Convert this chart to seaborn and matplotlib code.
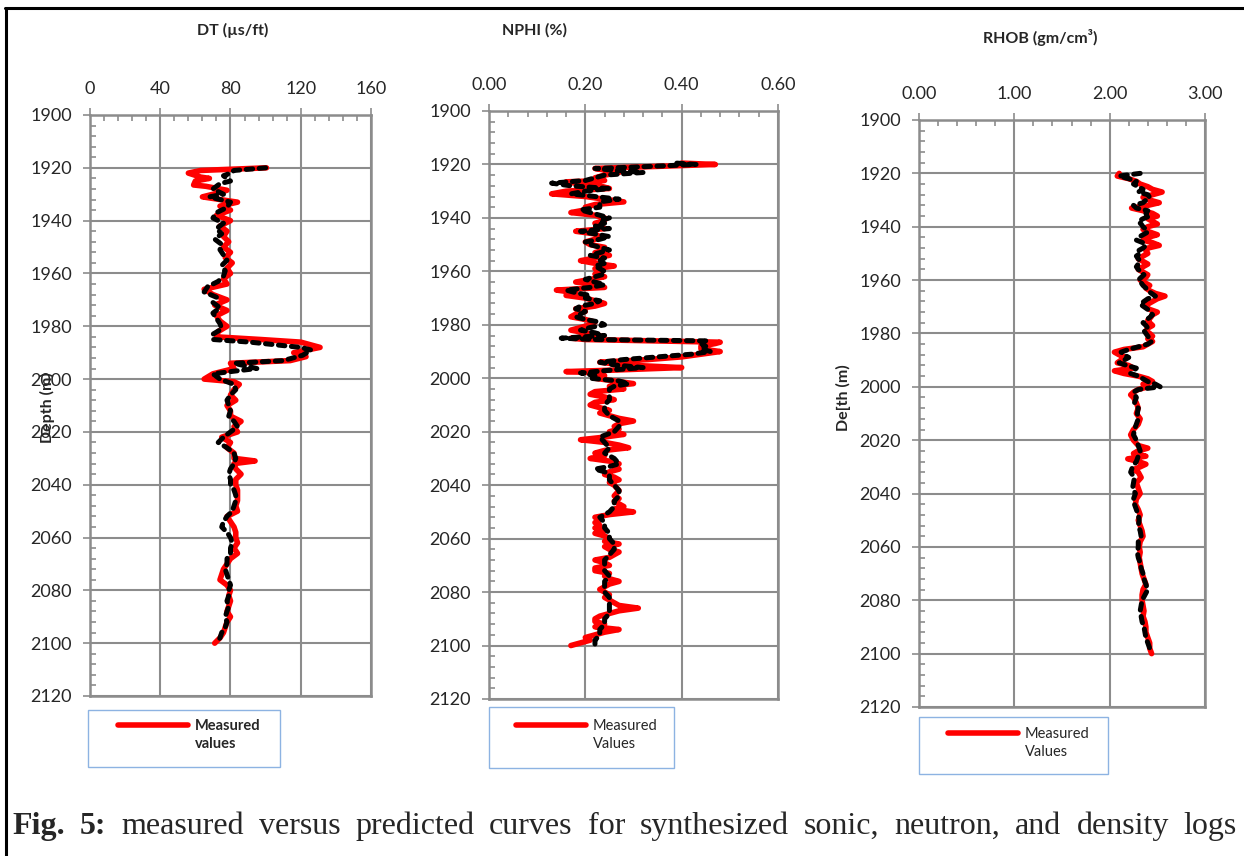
import matplotlib.pyplot as plt
import seaborn as sns
from matplotlib.ticker import MultipleLocator, FormatStrFormatter
from matplotlib.lines import Line2D
from matplotlib.patches import Rectangle

# ---- DT (sonic) ----
dt_meas_depth = [1920, 1921, 1922, 1923.5, 1924, 1925, 1926.5, 1927, 1928.5, 1930,
                 1931, 1932, 1933, 1934.5, 1936, 1938, 1940, 1942, 1944, 1946,
                 1948, 1950, 1952, 1954, 1956, 1958, 1960, 1962, 1964, 1966,
                 1968, 1970, 1972, 1974, 1976, 1978, 1980, 1982, 1984, 1985,
                 1986, 1988, 1990, 1991.5, 1993, 1994, 1996, 1998, 2000, 2001,
                 2002, 2004, 2006, 2008, 2010, 2012, 2014, 2016, 2018, 2020,
                 2022, 2024, 2026, 2028, 2030, 2031, 2032, 2034, 2036, 2038,
                 2040, 2042, 2044, 2046, 2048, 2050, 2052, 2054, 2056, 2058,
                 2060, 2062, 2064, 2066, 2068, 2070, 2072, 2074, 2076, 2078,
                 2080, 2082, 2084, 2086, 2088, 2090, 2092, 2094, 2096, 2098, 2100]
dt_meas = [100.5, 63, 56, 63, 68, 60, 59, 66, 78, 70,
           64, 74, 84, 74, 80, 72, 80, 74, 78, 76,
           79, 76, 80, 77, 81, 78, 80, 76, 78, 65,
           70, 78, 71, 78, 72, 74, 78, 73, 72, 97,
           120, 131, 116, 123, 114, 80, 82, 70, 65, 82,
           85, 82, 80, 83, 78, 80, 80, 86, 82, 84,
           75, 80, 78, 82, 82, 94, 82, 83, 86, 83,
           83, 84, 84, 84, 83, 84, 78, 80, 82, 83,
           83, 84, 82, 84, 80, 78, 76, 75, 74, 78,
           80, 79, 80, 79, 78, 80, 78, 77, 76, 74, 71]

dt_pred_depth = [1920, 1921, 1922, 1923, 1925, 1926, 1928, 1930, 1931, 1933,
                 1935, 1937, 1939, 1941, 1943, 1945, 1947, 1949, 1951, 1953,
                 1955, 1957, 1959, 1961, 1963, 1965, 1967, 1969, 1971, 1973,
                 1975, 1977, 1979, 1981, 1983, 1985, 1986, 1988, 1989, 1991,
                 1993, 1994, 1996, 1997, 1998, 2000, 2002, 2004, 2006, 2008,
                 2010, 2012, 2014, 2016, 2018, 2020, 2022, 2024, 2026, 2028,
                 2030, 2032, 2034, 2036, 2038, 2040, 2042, 2044, 2046, 2048,
                 2050, 2052, 2054, 2056, 2058, 2060, 2062, 2064, 2066, 2068,
                 2070, 2072, 2074, 2076, 2078, 2080, 2082, 2084, 2086, 2088,
                 2090, 2092, 2094, 2096, 2098, 2100]
dt_pred = [100, 82, 80, 76, 80, 74, 70, 76, 68, 80,
           78, 72, 70, 76, 72, 75, 71, 75, 74, 76,
           78, 75, 77, 76, 73, 67, 65, 72, 70, 74,
           70, 72, 74, 75, 70, 70, 91, 120, 126, 121,
           110, 82, 95, 82, 70, 74, 82, 83, 80, 78,
           79, 80, 79, 82, 84, 80, 76, 73, 78, 82,
           83, 82, 80, 79, 80, 80, 82, 83, 83, 82,
           81, 78, 76, 75, 78, 80, 81, 80, 80, 78,
           78, 77, 78, 79, 80, 79, 79, 78, 79, 78,
           77, 78, 77, 75, 74, 72]

# ---- NPHI (neutron) ----
nphi_meas_depth = [1919.5, 1920, 1921, 1921.5, 1923, 1924, 1925, 1926, 1926.5, 1927.5,
                   1928, 1929, 1930, 1931, 1932, 1933, 1934, 1935, 1936, 1937,
                   1938, 1939, 1940, 1941, 1942, 1943, 1944, 1945, 1946, 1947,
                   1948, 1949, 1950, 1951, 1952, 1953, 1954, 1955, 1956, 1957,
                   1958, 1959, 1960, 1961, 1962, 1963, 1964, 1965, 1966, 1967,
                   1968, 1969, 1970, 1971, 1972, 1973, 1974, 1975, 1976, 1977,
                   1978, 1979, 1980, 1981, 1982, 1983, 1984, 1985, 1985.5, 1986.5,
                   1987, 1988, 1989, 1990, 1991, 1992, 1993, 1994, 1995, 1996,
                   1997, 1997.5, 1998, 1999, 2000, 2001, 2002, 2003, 2004, 2005,
                   2006, 2007, 2008, 2009, 2010, 2011, 2012, 2013, 2014, 2015,
                   2016, 2017, 2018, 2019, 2020, 2021, 2022, 2023, 2024, 2025,
                   2026, 2027, 2028, 2029, 2030, 2031, 2032, 2033, 2034, 2035,
                   2036, 2037, 2038, 2039, 2040, 2042, 2044, 2045, 2046, 2048,
                   2049, 2050, 2051, 2052, 2053, 2054, 2055, 2056, 2057, 2058,
                   2059, 2060, 2061, 2062, 2063, 2064, 2065, 2066, 2067, 2068,
                   2069, 2070, 2071, 2072, 2073, 2074, 2075, 2076, 2077, 2078,
                   2079, 2080, 2081, 2082, 2083, 2084, 2085, 2086, 2087, 2088,
                   2089, 2090, 2091, 2092, 2093, 2094, 2095, 2096, 2097, 2098,
                   2099, 2100]
nphi_meas = [0.40, 0.47, 0.30, 0.22, 0.27, 0.24, 0.22, 0.24, 0.16, 0.20,
             0.23, 0.25, 0.16, 0.13, 0.20, 0.24, 0.28, 0.22, 0.20, 0.20,
             0.17, 0.22, 0.24, 0.24, 0.22, 0.23, 0.24, 0.18, 0.22, 0.23,
             0.22, 0.20, 0.21, 0.24, 0.24, 0.22, 0.25, 0.22, 0.19, 0.22,
             0.26, 0.22, 0.23, 0.22, 0.24, 0.21, 0.18, 0.22, 0.24, 0.14,
             0.18, 0.16, 0.20, 0.22, 0.24, 0.22, 0.18, 0.20, 0.18, 0.17,
             0.20, 0.22, 0.21, 0.19, 0.17, 0.20, 0.23, 0.17, 0.20, 0.48,
             0.47, 0.44, 0.44, 0.48, 0.44, 0.40, 0.33, 0.23, 0.28, 0.40,
             0.25, 0.16, 0.23, 0.24, 0.22, 0.26, 0.30, 0.25, 0.28, 0.22,
             0.21, 0.24, 0.26, 0.22, 0.21, 0.23, 0.25, 0.23, 0.25, 0.27,
             0.30, 0.27, 0.26, 0.27, 0.25, 0.28, 0.24, 0.19, 0.24, 0.27,
             0.29, 0.24, 0.22, 0.24, 0.21, 0.25, 0.27, 0.26, 0.27, 0.25,
             0.24, 0.26, 0.27, 0.25, 0.26, 0.27, 0.26, 0.27, 0.26, 0.28,
             0.26, 0.30, 0.25, 0.22, 0.23, 0.22, 0.23, 0.22, 0.24, 0.22,
             0.24, 0.25, 0.24, 0.27, 0.24, 0.25, 0.27, 0.26, 0.25, 0.22,
             0.24, 0.25, 0.22, 0.22, 0.25, 0.24, 0.25, 0.27, 0.25, 0.24,
             0.23, 0.24, 0.25, 0.24, 0.25, 0.26, 0.27, 0.31, 0.27, 0.25,
             0.23, 0.22, 0.22, 0.24, 0.22, 0.27, 0.24, 0.22, 0.20, 0.21,
             0.19, 0.17]

nphi_pred_depth = [1919.5, 1920, 1921, 1921.5, 1922, 1923, 1924, 1925, 1926, 1927,
                   1928, 1929, 1930, 1931, 1932, 1933, 1934, 1936, 1937, 1938,
                   1939, 1940, 1941, 1942, 1943, 1944, 1945, 1946, 1947, 1948,
                   1949, 1950, 1951, 1952, 1953, 1954, 1955, 1956, 1957, 1958,
                   1959, 1960, 1961, 1962, 1963, 1964, 1965, 1966, 1967, 1968,
                   1969, 1970, 1971, 1972, 1973, 1974, 1975, 1976, 1977, 1978,
                   1979, 1980, 1981, 1982, 1983, 1984, 1985, 1985.5, 1986, 1987,
                   1988, 1989, 1990, 1991, 1992, 1993, 1994, 1995, 1996, 1997,
                   1998, 1999, 2000, 2001, 2002, 2003, 2004, 2006, 2008, 2010,
                   2012, 2014, 2016, 2018, 2020, 2022, 2024, 2026, 2028, 2030,
                   2032, 2033, 2034, 2035, 2036, 2038, 2040, 2042, 2044, 2046,
                   2048, 2050, 2052, 2054, 2056, 2058, 2060, 2062, 2064, 2066,
                   2068, 2070, 2072, 2074, 2076, 2078, 2080, 2082, 2084, 2086,
                   2088, 2090, 2092, 2094, 2096, 2098, 2100]
nphi_pred = [0.39, 0.43, 0.30, 0.22, 0.25, 0.32, 0.24, 0.22, 0.20, 0.13,
             0.17, 0.25, 0.20, 0.17, 0.22, 0.27, 0.23, 0.23, 0.19, 0.21,
             0.23, 0.25, 0.23, 0.24, 0.22, 0.25, 0.19, 0.22, 0.25, 0.23,
             0.20, 0.21, 0.23, 0.25, 0.23, 0.21, 0.24, 0.23, 0.24, 0.22,
             0.23, 0.24, 0.24, 0.22, 0.20, 0.22, 0.24, 0.21, 0.16, 0.18,
             0.21, 0.20, 0.23, 0.22, 0.19, 0.18, 0.20, 0.19, 0.18, 0.20,
             0.23, 0.24, 0.21, 0.19, 0.22, 0.24, 0.15, 0.22, 0.45, 0.44,
             0.45, 0.44, 0.46, 0.42, 0.35, 0.28, 0.23, 0.26, 0.32, 0.25,
             0.19, 0.22, 0.21, 0.27, 0.29, 0.26, 0.25, 0.25, 0.25, 0.24,
             0.24, 0.25, 0.27, 0.27, 0.26, 0.23, 0.24, 0.25, 0.24, 0.26,
             0.27, 0.25, 0.22, 0.24, 0.25, 0.25, 0.26, 0.27, 0.27, 0.26,
             0.26, 0.25, 0.23, 0.24, 0.24, 0.25, 0.25, 0.26, 0.26, 0.25,
             0.24, 0.24, 0.24, 0.25, 0.24, 0.24, 0.24, 0.25, 0.25, 0.25,
             0.25, 0.24, 0.24, 0.23, 0.23, 0.22, 0.22]

# ---- RHOB (density) ----
rhob_meas_depth = list(range(1920, 2001)) + [2001, 2002, 2003, 2004, 2006, 2008, 2010,
                   2012, 2014, 2016, 2018, 2020, 2022, 2023, 2024, 2025, 2026, 2027, 2028,
                   2029, 2030, 2031, 2032, 2034, 2036, 2038, 2040, 2042, 2044, 2046, 2048,
                   2050, 2052, 2054, 2056, 2058, 2060, 2062, 2064, 2066, 2068, 2070, 2072,
                   2074, 2076, 2078, 2080, 2082, 2084, 2086, 2088, 2090, 2092, 2094, 2096,
                   2098, 2100]
rhob_meas = [2.10, 2.08, 2.20, 2.28, 2.32, 2.40, 2.45, 2.55, 2.45, 2.35,
             2.42, 2.52, 2.40, 2.23, 2.35, 2.45, 2.50, 2.40, 2.45, 2.50,
             2.40, 2.35, 2.42, 2.50, 2.40, 2.35, 2.45, 2.52, 2.40, 2.38,
             2.40, 2.35, 2.30, 2.35, 2.40, 2.35, 2.30, 2.35, 2.40, 2.38,
             2.32, 2.37, 2.42, 2.38, 2.42, 2.48, 2.58, 2.50, 2.45, 2.40,
             2.38, 2.42, 2.50, 2.45, 2.43, 2.40, 2.42, 2.45, 2.40, 2.38,
             2.42, 2.45, 2.40, 2.45, 2.40, 2.35, 2.15, 2.05, 2.10, 2.18,
             2.12, 2.08, 2.20, 2.25, 2.05, 2.15, 2.30, 2.40, 2.45, 2.35,
             2.40,
             2.30, 2.25, 2.22, 2.25, 2.28, 2.30, 2.28,
             2.32, 2.30, 2.25, 2.22, 2.25, 2.30, 2.40, 2.30, 2.25, 2.38, 2.19, 2.30,
             2.38, 2.32, 2.25, 2.30, 2.33, 2.28, 2.30, 2.32, 2.28, 2.27, 2.30, 2.32,
             2.30, 2.32, 2.34, 2.35, 2.32, 2.31, 2.32, 2.31, 2.32, 2.33, 2.34, 2.36,
             2.38, 2.35, 2.34, 2.34, 2.35, 2.36, 2.35, 2.37, 2.38, 2.38, 2.40, 2.42,
             2.42, 2.44]

rhob_pred_depth = list(range(1920, 2003)) + list(range(2004, 2101, 2))
rhob_pred = [2.32, 2.10, 2.20, 2.28, 2.25, 2.30, 2.35, 2.30, 2.40, 2.42,
             2.38, 2.35, 2.25, 2.28, 2.40, 2.38, 2.42, 2.35, 2.30, 2.33,
             2.35, 2.38, 2.40, 2.35, 2.30, 2.28, 2.35, 2.38, 2.35, 2.30,
             2.32, 2.28, 2.30, 2.32, 2.30, 2.28, 2.30, 2.33, 2.36, 2.33,
             2.30, 2.33, 2.35, 2.38, 2.40, 2.44, 2.48, 2.40, 2.36, 2.32,
             2.36, 2.40, 2.42, 2.45, 2.42, 2.38, 2.35, 2.38, 2.40, 2.36,
             2.38, 2.40, 2.42, 2.44, 2.40, 2.30, 2.20, 2.12, 2.15, 2.20,
             2.15, 2.10, 2.18, 2.28, 2.25, 2.22, 2.30, 2.35, 2.40, 2.48,
             2.53, 2.30, 2.25,
             2.28, 2.26, 2.30, 2.29, 2.30, 2.28, 2.26, 2.25, 2.28, 2.30,
             2.32, 2.30, 2.28, 2.24, 2.22, 2.26, 2.25, 2.24, 2.27, 2.25,
             2.26, 2.28, 2.30, 2.31, 2.30, 2.32, 2.33, 2.30, 2.30, 2.29,
             2.30, 2.32, 2.33, 2.35, 2.36, 2.38, 2.40, 2.37, 2.34, 2.33,
             2.32, 2.33, 2.34, 2.36, 2.37, 2.38, 2.40, 2.42, 2.42]

caption = "Fig. 5: measured versus predicted curves for synthesized sonic, neutron, and density logs"

sns.set_style("white")
plt.rcParams['font.family'] = ['Lato', 'DejaVu Sans']

W, H = 1244, 856
fig = plt.figure(figsize=(W / 100, H / 100), dpi=100)


def rect(x0, y0, x1, y1):
    # pixel box (from top-left) -> figure fraction [l, b, w, h]
    return [x0 / W, 1 - y1 / H, (x1 - x0) / W, (y1 - y0) / H]


panels = [
    dict(box=(90, 115, 371, 696), xlim=(0, 160), major=40, minor=8, fmt='%d',
         meas=(dt_meas, dt_meas_depth), pred=(dt_pred, dt_pred_depth),
         title="DT (µs/ft)", title_xy=(233, 30), ylabel="Depth (m)", ylabel_xy=(47, 408),
         leg_box=(88, 710, 280, 767), leg_xy=(118, 719), leg_text="Measured\nvalues", leg_bold=True),
    dict(box=(489, 111, 778, 699), xlim=(0, 0.6), major=0.2, minor=0.04, fmt='%.2f',
         meas=(nphi_meas, nphi_meas_depth), pred=(nphi_pred, nphi_pred_depth),
         title="NPHI (%)", title_xy=(535, 30), ylabel=None, ylabel_xy=None,
         leg_box=(489, 707, 674, 768), leg_xy=(516, 719), leg_text="Measured\nValues", leg_bold=False),
    dict(box=(919, 120, 1205, 707), xlim=(0, 3), major=1, minor=0.2, fmt='%.2f',
         meas=(rhob_meas, rhob_meas_depth), pred=(rhob_pred, rhob_pred_depth),
         title="RHOB (gm/cm³)", title_xy=(1040, 37), ylabel="De[th (m)", ylabel_xy=(843, 398),
         leg_box=(919, 717, 1108, 774), leg_xy=(948, 727), leg_text="Measured\nValues", leg_bold=False),
]

grey = '#8c8c8c'
for p in panels:
    ax = fig.add_axes(rect(*p['box']))
    mx, my = p['meas']
    px_, py_ = p['pred']
    assert len(mx) == len(my) and len(px_) == len(py_)
    sns.lineplot(x=mx, y=my, orient='y', sort=False, estimator=None, ax=ax,
                 color='red', lw=4.0, solid_joinstyle='round')
    sns.lineplot(x=px_, y=py_, orient='y', sort=False, estimator=None, ax=ax,
                 color='black', lw=3.6, linestyle=(0, (1.3, 1.3)), dash_capstyle='round')
    ax.set_xlim(*p['xlim'])
    ax.set_ylim(2120, 1900)
    ax.set_xlabel('')
    ax.set_ylabel('')
    ax.xaxis.tick_top()
    ax.xaxis.set_major_locator(MultipleLocator(p['major']))
    ax.xaxis.set_minor_locator(MultipleLocator(p['minor']))
    ax.xaxis.set_major_formatter(FormatStrFormatter(p['fmt']))
    ax.yaxis.set_major_locator(MultipleLocator(20))
    ax.yaxis.set_minor_locator(MultipleLocator(4))
    ax.tick_params(which='major', direction='out', length=5, width=1.2, color=grey,
                   labelsize=13, pad=8, top=True, bottom=False, left=True)
    ax.tick_params(which='minor', direction='in', length=4, width=1.2, color=grey,
                   top=True, bottom=False, left=True)
    ax.grid(True, which='major', color=grey, lw=1.5)
    for s in ax.spines.values():
        s.set_color(grey)
        s.set_linewidth(1.8)
    fig.text(p['title_xy'][0] / W, 1 - p['title_xy'][1] / H, p['title'],
             ha='center', va='center', fontsize=11.5, weight='bold')
    if p['ylabel']:
        fig.text(p['ylabel_xy'][0] / W, 1 - p['ylabel_xy'][1] / H, p['ylabel'],
                 ha='center', va='center', rotation=90, fontsize=11.5, weight='bold')
    # legend box
    lx0, ly0, lx1, ly1 = p['leg_box']
    fig.add_artist(Rectangle((lx0 / W, 1 - ly1 / H), (lx1 - lx0) / W, (ly1 - ly0) / H,
                             transform=fig.transFigure, fill=False, edgecolor='#8db3e2', lw=1.0))
    first, second = p['leg_text'].split('\n')
    handles = [Line2D([], [], color='red', lw=4.0), Line2D([], [], color='none')]
    fig.legend(handles, [first, second], loc='upper left',
               bbox_to_anchor=(p['leg_xy'][0] / W, 1 - p['leg_xy'][1] / H),
               frameon=False, borderpad=0, borderaxespad=0, handlelength=4.8,
               handletextpad=0.45, labelspacing=0.3,
               prop=dict(size=10.5, weight='bold' if p['leg_bold'] else 'normal'))

# outer frame
fig.add_artist(Line2D([5 / W, 1], [1 - 8 / H, 1 - 8 / H], color='black', lw=2.2))
fig.add_artist(Line2D([6 / W, 6 / W], [0, 1 - 8 / H], color='black', lw=2.2))

# justified caption
renderer = fig.canvas.get_renderer()
words = caption.split()
texts = []
for i, w in enumerate(words):
    texts.append(fig.text(0, 1 - 834 / H, w, family=['Liberation Serif'], fontsize=23,
                          weight='bold' if i < 2 else 'normal', va='baseline'))
widths = [t.get_window_extent(renderer).width for t in texts]
gap = (1237 - 12 - sum(widths)) / (len(words) - 1)
x = 12
for t, wd in zip(texts, widths):
    t.set_x(x / W)
    x += wd + gap

fig.savefig('out.png', dpi=100)
